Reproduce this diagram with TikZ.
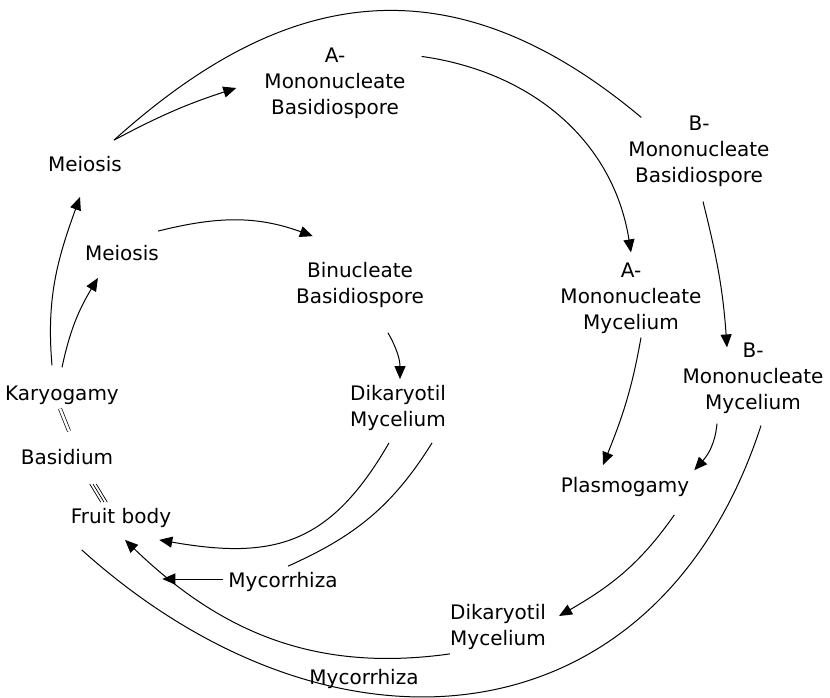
\documentclass[tikz,border=0pt]{standalone}
\usepackage{fontspec}
\setmainfont{DejaVu Sans}
\usepackage{tikz}
\usetikzlibrary{arrows.meta}

\begin{document}
\begin{tikzpicture}[
					x=1pt, y=-1pt,
					stagenode/.style={
						inner sep=2pt, align=center,
						font=\fontsize{20}{26}\selectfont
					},
					arrowline/.style={
						draw=black, line width=1pt,
						-{Triangle[length=13pt,width=11pt]}
					},
					plainline/.style={
						draw=black, line width=1pt
					}
					]
					\useasboundingbox (0,0) rectangle (830,697);
					
					% --- NODES ---
					\node[stagenode] (abas)   at (335,83)  {A-\\Mononucleate\\Basidiospore};
					\node[stagenode] (bbas)   at (699,151) {B-\\Mononucleate\\Basidiospore};
					\node[stagenode] (meio1)  at (85,164)  {Meiosis};
					\node[stagenode] (meio2)  at (122,253) {Meiosis};
					\node[stagenode] (binuc)  at (360,285) {Binucleate\\Basidiospore};
					\node[stagenode] (amyc)   at (631,298) {A-\\Mononucleate\\Mycelium};
					\node[stagenode] (bmyc)   at (753,378) {B-\\Mononucleate\\Mycelium};
					\node[stagenode] (kary)   at (62,395)  {Karyogamy};
					\node[stagenode] (dika1)  at (398,408) {Dikaryotil\\Mycelium};
					\node[stagenode] (basid)  at (67,457)  {Basidium};
					\node[stagenode] (plasmo) at (625,487) {Plasmogamy};
					\node[stagenode] (fruit)  at (121,518) {Fruit body};
					\node[stagenode] (myc1)   at (283,582) {Mycorrhiza};
					\node[stagenode] (dika2)  at (498,627) {Dikaryotil\\Mycelium};
					\node[stagenode] (myc2)   at (364,679) {Mycorrhiza};
					
					% --- OUTER CYCLE ---
					\draw[plainline] ([xshift=-10pt,yshift=14pt]meio1.north east) to[out=42,in=140,out looseness=1,in looseness=1.3] ([xshift=15pt,yshift=-4pt]bbas.north west);
					\draw[arrowline] ([xshift=-10pt,yshift=14pt]meio1.north east) to[out=28,in=-162] ([xshift=-26pt,yshift=-5pt]abas.west);
					\draw[arrowline] ([xshift=14pt,yshift=-11pt]abas.north east) to[out=-8,in=99] ([yshift=8pt]amyc.north);
					\draw[arrowline] ([xshift=4pt,yshift=-13pt]bbas.south) to[out=-76,in=94] ([xshift=-26pt,yshift=-7pt]bmyc.north);
					\draw[arrowline] ([xshift=10pt,yshift=-2pt]amyc.south) to[out=-100,in=68] ([xshift=-22pt,yshift=10pt]plasmo.north);
					\draw[arrowline] ([xshift=-36pt,yshift=-8pt]bmyc.south) to[out=-95,in=48] ([xshift=3pt,yshift=5pt]plasmo.north east);
					\draw[arrowline] ([xshift=-17pt,yshift=-16pt]plasmo.south east) to[out=-125,in=30] ([xshift=11pt,yshift=11pt]dika2.east);
					\draw[plainline] ([xshift=8pt,yshift=-10pt]bmyc.south) to[out=-108,in=-42,looseness=1.25] ([xshift=13pt,yshift=-20pt]fruit.south west);
					\draw[arrowline] ([xshift=2pt,yshift=-2pt]dika2.south west) to[out=-172,in=-44] ([xshift=4pt,yshift=-10pt]fruit.south);
					
					% --- INNER CYCLE ---
					\draw[arrowline] ([xshift=-3pt,yshift=12pt]meio2.north east) to[out=14,in=160] ([xshift=19pt,yshift=24pt]binuc.north west);
					\draw[arrowline] ([xshift=28pt,yshift=-23pt]binuc.south) to[out=-60,in=90] ([xshift=2pt,yshift=4pt]dika1.north);
					\draw[arrowline] ([xshift=-9pt,yshift=-10pt]dika1.south) to[out=-120,in=-10,looseness=1.2] ([xshift=-14pt,yshift=-10pt]fruit.south east);
					\draw[plainline] ([xshift=-16pt,yshift=-10pt]dika1.south east) to[out=-122,in=24] ([xshift=5pt,yshift=4pt]myc1.north);
					\draw[arrowline] ([xshift=-3pt,yshift=3pt]myc1.west) -- ([xshift=-64pt,yshift=3pt]myc1.west);
					
					% --- LEFT SIDE ---
					\draw[arrowline] ([xshift=-10pt,yshift=18pt]kary.north) to[out=95,in=-110] ([xshift=-5pt,yshift=-23pt]meio1.south);
					\draw[arrowline] ([yshift=16pt]kary.north) to[out=78,in=-121] ([xshift=15pt,yshift=-15pt]meio2.south west);
					\draw[plainline, double, double distance=2.5pt, line width=0.7pt] ([xshift=-2pt,yshift=-2pt]kary.south) -- ([xshift=2pt,yshift=16pt]basid.north);
					\foreach \s in {-3.3,0,3.3}
						\draw[plainline, line width=0.7pt] ([xshift=26pt+\s pt,yshift=-17pt]basid.south) -- ([xshift=-17pt+\s pt,yshift=4pt]fruit.north);
					
				\end{tikzpicture}
\end{document}
